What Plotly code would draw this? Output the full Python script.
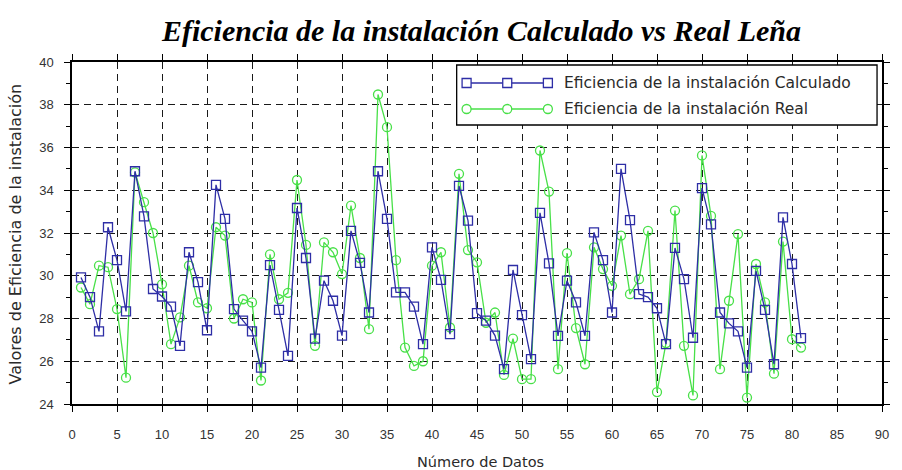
import plotly.graph_objects as go

# Data points (sample number 1..81)
numero = list(range(1, 82))

eficiencia_calculado = [
    29.92, 29.00, 27.40, 32.27, 30.73, 28.33, 34.89, 32.78, 29.38, 29.03,
    28.56, 26.72, 31.10, 29.70, 27.45, 34.25, 32.66, 28.44, 27.90, 27.40,
    25.70, 30.50, 28.40, 26.25, 33.17, 30.83, 27.06, 29.77, 28.83, 27.20,
    32.10, 30.60, 28.28, 34.89, 32.66, 29.22, 29.22, 28.56, 26.80, 31.33,
    29.81, 27.27, 34.20, 32.58, 28.25, 27.90, 27.20, 25.63, 30.27, 28.16,
    26.10, 32.94, 30.58, 27.19, 29.77, 28.75, 27.19, 32.03, 30.73, 28.28,
    35.00, 32.60, 29.14, 29.00, 28.48, 26.80, 31.30, 29.84, 27.10, 34.10,
    32.40, 28.28, 27.77, 27.40, 25.70, 30.23, 28.40, 25.86, 32.73, 30.55,
    27.08,
]

eficiencia_real = [
    29.45, 28.67, 30.47, 30.40, 28.44, 25.23, 34.84, 33.44, 32.00, 29.60,
    26.80, 28.05, 30.47, 28.75, 28.48, 32.27, 31.88, 28.00, 28.90, 28.75,
    25.10, 31.00, 28.90, 29.20, 34.48, 31.44, 26.72, 31.56, 31.10, 30.08,
    33.28, 30.83, 27.50, 38.48, 36.95, 30.73, 26.64, 25.78, 26.00, 30.47,
    31.10, 27.58, 34.77, 31.20, 30.63, 27.80, 28.28, 25.36, 27.06, 25.16,
    25.16, 35.86, 33.94, 25.63, 31.06, 27.55, 25.86, 31.33, 30.31, 29.53,
    31.88, 29.14, 29.84, 32.10, 24.56, 26.85, 33.05, 26.72, 24.40, 35.63,
    32.80, 25.63, 28.83, 31.95, 24.30, 30.55, 28.75, 25.42, 31.60, 27.03,
    26.64,
]

nombre_calc = "Eficiencia de la instalación Calculado"
nombre_real = "Eficiencia de la instalación Real"

AZUL = "#2e2ea6"
VERDE = "#48e048"
TEXTO = "#2a2a2a"
SANS = "DejaVu Sans"
NARROW = "Liberation Sans Narrow, Liberation Sans, Arial"

fig = go.Figure()

fig.add_trace(go.Scatter(
    x=numero, y=eficiencia_real, mode="lines+markers", name=nombre_real,
    line=dict(color=VERDE, width=1.3),
    marker=dict(symbol="circle-open", size=9, color=VERDE, line=dict(width=1.3)),
))
fig.add_trace(go.Scatter(
    x=numero, y=eficiencia_calculado, mode="lines+markers", name=nombre_calc,
    line=dict(color=AZUL, width=1.3),
    marker=dict(symbol="square-open", size=9, color=AZUL, line=dict(width=1.3)),
))

# Plot area in pixels: left 72, right 889, top 62, bottom 404
L, R, T, B = 72, 889, 62, 404
W, H = R - L, B - T


def px(xp):
    return (xp - L) / W


def py(yp):
    return (B - yp) / H


# Hand-drawn legend box with three markers per entry
shapes = [dict(type="rect", xref="paper", yref="paper",
               x0=px(460), x1=px(884), y0=py(125), y1=py(65),
               fillcolor="white", line=dict(color="black", width=1.3),
               layer="above")]
annotations = []
entradas = [(nombre_calc, AZUL, "rect", 83), (nombre_real, VERDE, "circle", 109)]
for texto, color, forma, yl in entradas:
    shapes.append(dict(type="line", xref="paper", yref="paper",
                       x0=px(470), x1=px(552), y0=py(yl), y1=py(yl),
                       line=dict(color=color, width=1.3), layer="above"))
    for xm in (470, 511, 552):
        shapes.append(dict(type=forma, xref="paper", yref="paper",
                           xsizemode="pixel", ysizemode="pixel",
                           xanchor=px(xm), yanchor=py(yl),
                           x0=-4.5, x1=4.5, y0=-4.5, y1=4.5,
                           fillcolor="white", line=dict(color=color, width=1.3),
                           layer="above"))
    annotations.append(dict(xref="paper", yref="paper", x=px(566), y=py(yl),
                            xanchor="left", yanchor="middle", showarrow=False,
                            text=texto, font=dict(family=SANS, size=15.5, color=TEXTO)))

# Axis titles
annotations.append(dict(xref="paper", yref="paper", x=px(484), y=py(462),
                        xanchor="center", yanchor="middle", showarrow=False,
                        text="Número de Datos",
                        font=dict(family=SANS, size=14.5, color=TEXTO)))
annotations.append(dict(xref="paper", yref="paper", x=px(15), y=py(234),
                        xanchor="center", yanchor="middle", showarrow=False,
                        textangle=-90,
                        text="Valores de Eficiencia de la instalación",
                        font=dict(family=SANS, size=16, color=TEXTO)))

eje = dict(showline=True, linecolor="black", linewidth=1.5, mirror="ticks",
           ticks="outside", ticklen=6, tickwidth=1.2, tickcolor="black",
           showgrid=True, gridcolor="#1a1a1a", gridwidth=1.4, griddash="7px,5px",
           zeroline=False, tickfont=dict(family=NARROW, size=13, color="#333333"))

fig.update_layout(
    width=902, height=470,
    margin=dict(l=L, r=902 - R, t=T, b=470 - B),
    paper_bgcolor="white", plot_bgcolor="white",
    showlegend=False,
    title=dict(text="Eficiencia de la instalación Calculado vs Real Leña",
               x=px(485), xref="paper", y=1 - 30 / 470, yref="container",
               xanchor="center", yanchor="middle",
               font=dict(family="Liberation Serif", size=30, color="black",
                         weight="bold", style="italic")),
    xaxis=dict(eje, range=[0, 90], dtick=5, tick0=0, ticklabelstandoff=12),
    yaxis=dict(eje, range=[24, 40], dtick=2, tick0=24, ticklabelstandoff=8,
               minor=dict(dtick=1, ticks="outside", ticklen=4,
                          tickcolor="black", showgrid=False)),
    shapes=shapes,
    annotations=annotations,
)

fig.write_html("out.html")
